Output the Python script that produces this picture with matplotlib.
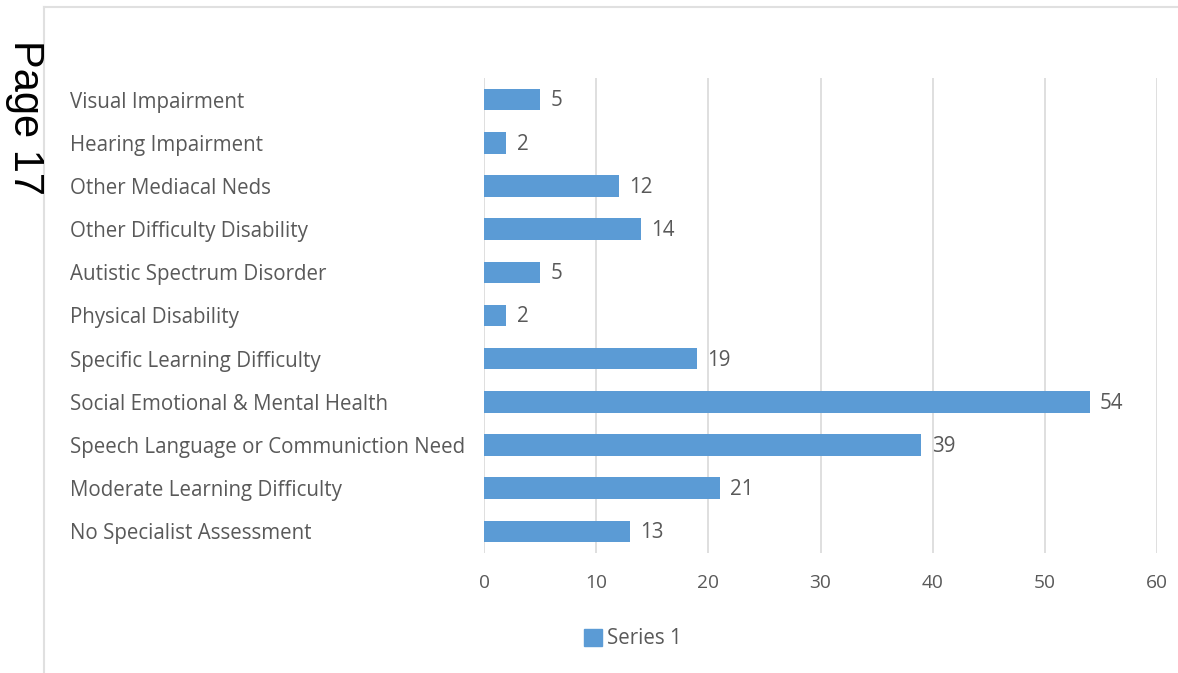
import matplotlib.pyplot as plt
from matplotlib.patches import Patch
from matplotlib.lines import Line2D

# data (top to bottom as shown)
categories = ["Visual Impairment", "Hearing Impairment", "Other Mediacal Neds",
              "Other Difficulty Disability", "Autistic Spectrum Disorder",
              "Physical Disability", "Specific Learning Difficulty",
              "Social Emotional & Mental Health",
              "Speech Language or Communiction Need",
              "Moderate Learning Difficulty", "No Specialist Assessment"]
values = [5, 2, 12, 14, 5, 2, 19, 54, 39, 21, 13]
xticks = [0, 10, 20, 30, 40, 50, 60]

bar_color = "#5b9bd5"
text_color = "#595959"
grid_color = "#d9d9d9"
font = "Open Sans"
fs = 14.8

W, H = 1178, 673
fig = plt.figure(figsize=(W / 100, H / 100), dpi=100)

# page frame lines (top and left)
fig.add_artist(Line2D([44 / W, 1], [1 - 7 / H, 1 - 7 / H], color="#e0e0e0", lw=1.5,
                      transform=fig.transFigure))
fig.add_artist(Line2D([44 / W, 44 / W], [1 - 7 / H, 0], color="#e0e0e0", lw=1.5,
                      transform=fig.transFigure))

fig.text(25 / W, 1 - 118 / H, "Page 17", rotation=-90, ha="center", va="center",
         fontsize=30, family="Liberation Sans", color="black")

ax = fig.add_axes([484 / W, 1 - 553 / H, (1157 - 484) / W, (553 - 78) / H])
ypos = list(range(len(categories)))
ax.barh(ypos, values, height=0.5, color=bar_color, zorder=3)
ax.set_ylim(len(categories) - 0.5, -0.5)
ax.set_xlim(0, 60)
ax.set_xticks(xticks)
ax.set_xticklabels([str(t) for t in xticks], family=font, fontsize=fs - 1, color=text_color)
ax.tick_params(axis="x", length=0, pad=15)
ax.set_yticks(ypos)
ax.set_yticklabels(categories, family=font, fontsize=fs, color=text_color, ha="left")
ax.tick_params(axis="y", length=0, pad=(484 - 70) * 0.72)
ax.grid(axis="x", color=grid_color, lw=1.2, zorder=0)
for s in ax.spines.values():
    s.set_visible(False)

for y, v in zip(ypos, values):
    ax.annotate(str(v), (v, y), xytext=(7.5, -1), textcoords="offset points",
                ha="left", va="center", family=font, fontsize=fs, color=text_color)

leg = fig.legend(handles=[Patch(color=bar_color, label="Series 1")],
                 loc="center", bbox_to_anchor=(633 / W, 1 - 639 / H), frameon=False,
                 prop={"family": font, "size": fs}, handlelength=0.9, handleheight=0.9,
                 handletextpad=0.25)
for t in leg.get_texts():
    t.set_color(text_color)

fig.savefig("out.png", dpi=100)
